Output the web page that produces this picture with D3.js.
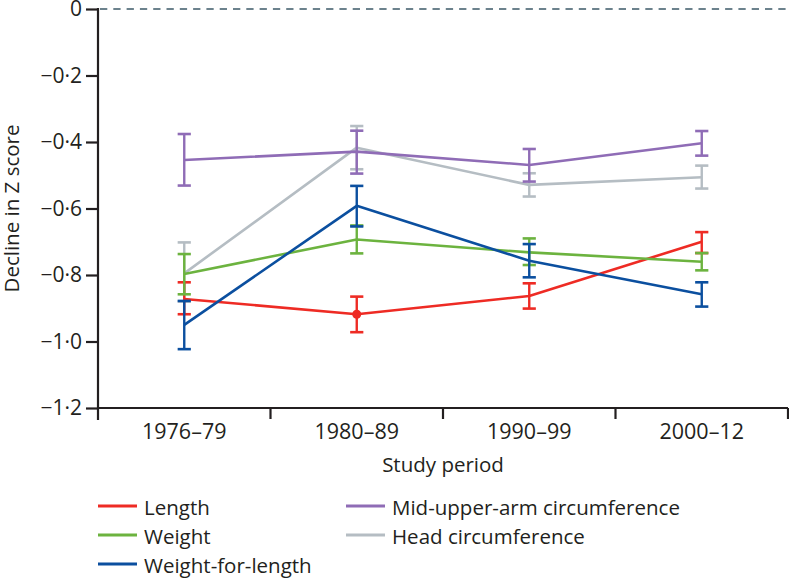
<!DOCTYPE html>
<html>
<head>
<meta charset="utf-8">
<script src="https://cdn.jsdelivr.net/npm/d3@7"></script>
<style>
  html, body { margin: 0; padding: 0; background: #fff; }
  svg text { font-family: "Open Sans", "Noto Sans", sans-serif; fill: #231f20; }
</style>
</head>
<body>
<svg id="chart" width="789" height="581"></svg>
<script>
// ---- data ----
const categories = ["1976–79", "1980–89", "1990–99", "2000–12"];
const yTicks = [0, -0.2, -0.4, -0.6, -0.8, -1.0, -1.2];
const yTickLabels = ["0", "−0·2", "−0·4", "−0·6", "−0·8", "−1·0", "−1·2"];

const lengthMean = [-0.872, -0.918, -0.863, -0.700];
const lengthLo   = [-0.918, -0.972, -0.901, -0.734];
const lengthHi   = [-0.822, -0.865, -0.825, -0.671];

const weightMean = [-0.797, -0.693, -0.732, -0.760];
const weightLo   = [-0.858, -0.735, -0.770, -0.786];
const weightHi   = [-0.737, -0.651, -0.690, -0.734];

const wflMean = [-0.950, -0.592, -0.757, -0.858];
const wflLo   = [-1.023, -0.654, -0.807, -0.895];
const wflHi   = [-0.878, -0.532, -0.707, -0.822];

const muacMean = [-0.454, -0.429, -0.469, -0.404];
const muacLo   = [-0.531, -0.495, -0.519, -0.441];
const muacHi   = [-0.376, -0.366, -0.421, -0.367];

const headMean = [-0.795, -0.417, -0.529, -0.506];
const headLo   = [-0.880, -0.482, -0.564, -0.540];
const headHi   = [-0.702, -0.352, -0.494, -0.471];

const lengthDots = ["1980–89"];

// series in drawing order (bottom first)
const series = [
  { name: "Head circumference", mean: headMean, lo: headLo, hi: headHi, color: "#b5bdc3" },
  { name: "Mid-upper-arm circumference", mean: muacMean, lo: muacLo, hi: muacHi, color: "#8f6cb6" },
  { name: "Length", mean: lengthMean, lo: lengthLo, hi: lengthHi, color: "#ee2b24", dots: lengthDots },
  { name: "Weight", mean: weightMean, lo: weightLo, hi: weightHi, color: "#6cb33f" },
  { name: "Weight-for-length", mean: wflMean, lo: wflLo, hi: wflHi, color: "#0b4f9f" }
];
const legendOrder = [
  ["Length", "Weight", "Weight-for-length"],
  ["Mid-upper-arm circumference", "Head circumference"]
];

// ---- layout ----
const svg = d3.select("#chart");
const mLeft = 98, mRight = 788, mTop = 9, mBottom = 408;
const x = d3.scaleBand().domain(categories).range([mLeft, mRight]).padding(0);
const y = d3.scaleLinear().domain([-1.2, 0]).range([mBottom, mTop]);
const axisColor = "#231f20";

// zero dashed reference line
svg.append("line")
  .attr("x1", mLeft + 2).attr("x2", mRight + 1)
  .attr("y1", y(0)).attr("y2", y(0))
  .attr("stroke", "#3d5a68").attr("stroke-width", 1.6)
  .attr("stroke-dasharray", "7.3,6");

// y axis
const yAxis = svg.append("g")
  .attr("transform", `translate(${mLeft},0)`)
  .call(d3.axisLeft(y).tickValues(yTicks)
    .tickFormat((d, i) => yTickLabels[i]).tickSize(12).tickSizeOuter(0).tickPadding(4));
yAxis.select(".domain").remove();
yAxis.selectAll(".tick line").attr("stroke", axisColor).attr("stroke-width", 2.2);
yAxis.selectAll(".tick text").style("font-size", "21px").style("font-family", "'Open Sans', sans-serif").attr("fill", axisColor);
svg.append("line")
  .attr("x1", mLeft).attr("x2", mLeft)
  .attr("y1", y(0) - 1).attr("y2", mBottom + 12)
  .attr("stroke", axisColor).attr("stroke-width", 2.2);

// x axis
const boundaries = categories.map(c => x(c)).concat([x(categories[categories.length - 1]) + x.bandwidth()]);
svg.append("line")
  .attr("x1", mLeft).attr("x2", mRight)
  .attr("y1", mBottom).attr("y2", mBottom)
  .attr("stroke", axisColor).attr("stroke-width", 2.2);
svg.selectAll(".xtick").data(boundaries.slice(1)).enter().append("line")
  .attr("x1", d => d).attr("x2", d => d)
  .attr("y1", mBottom).attr("y2", mBottom + 11)
  .attr("stroke", axisColor).attr("stroke-width", 2.2);
svg.selectAll(".xlab").data(categories).enter().append("text")
  .attr("x", d => x(d) + x.bandwidth() / 2)
  .attr("y", 439)
  .attr("text-anchor", "middle")
  .style("font-size", "21.5px")
  .text(d => d);

// axis titles
svg.append("text")
  .attr("x", (mLeft + mRight) / 2).attr("y", 472)
  .attr("text-anchor", "middle").style("font-size", "20.5px")
  .text("Study period");
svg.append("text")
  .attr("transform", `translate(19,${(mTop + mBottom) / 2}) rotate(-90)`)
  .attr("text-anchor", "middle").style("font-size", "20.5px")
  .text("Decline in Z score");

// series
const cx = c => x(c) + x.bandwidth() / 2;
const capW = 6.6;
const line = d3.line().x(d => cx(d.c)).y(d => y(d.v));
series.forEach(s => {
  const g = svg.append("g");
  const pts = categories.map((c, i) => ({ c, v: s.mean[i], lo: s.lo[i], hi: s.hi[i] }));
  g.append("path").datum(pts).attr("d", line)
    .attr("fill", "none").attr("stroke", s.color).attr("stroke-width", 2.6)
    .attr("stroke-linejoin", "round");
  pts.forEach(p => {
    const px = cx(p.c);
    g.append("line").attr("x1", px).attr("x2", px).attr("y1", y(p.lo)).attr("y2", y(p.hi))
      .attr("stroke", s.color).attr("stroke-width", 2.4);
    [p.lo, p.hi].forEach(v => {
      g.append("line").attr("x1", px - capW).attr("x2", px + capW).attr("y1", y(v)).attr("y2", y(v))
        .attr("stroke", s.color).attr("stroke-width", 2.6);
    });
  });
  if (s.dots) {
    g.selectAll(".dot").data(pts.filter(p => s.dots.includes(p.c))).enter().append("circle")
      .attr("cx", p => cx(p.c)).attr("cy", p => y(p.v)).attr("r", 4.5).attr("fill", s.color);
  }
});

// legend
const colorOf = name => series.find(s => s.name === name).color;
const legX = [98, 346], legY0 = 515, legDy = 29;
legendOrder.forEach((col, ci) => {
  col.forEach((name, ri) => {
    const yy = legY0 + ri * legDy;
    svg.append("line")
      .attr("x1", legX[ci]).attr("x2", legX[ci] + 39)
      .attr("y1", yy - 9).attr("y2", yy - 9)
      .attr("stroke", colorOf(name)).attr("stroke-width", 3);
    svg.append("text")
      .attr("x", legX[ci] + 46).attr("y", yy)
      .style("font-size", "20.5px")
      .text(name);
  });
});
</script>
</body>
</html>
